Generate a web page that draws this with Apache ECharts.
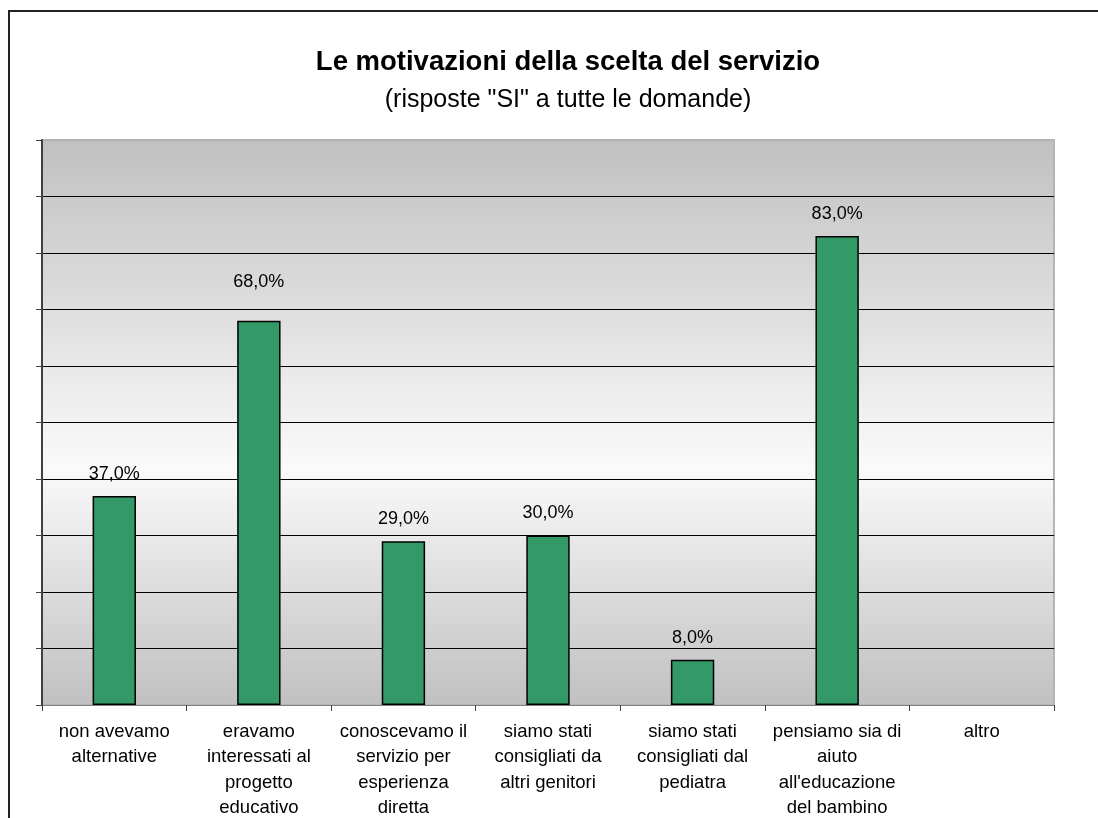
<!DOCTYPE html>
<html>
<head>
<meta charset="utf-8">
<title>Le motivazioni della scelta del servizio</title>
<script src="https://cdn.jsdelivr.net/npm/echarts@6/dist/echarts.min.js"></script>
<style>
  html, body { margin: 0; padding: 0; background: #fff; }
  #chart { width: 1098px; height: 818px; }
</style>
</head>
<body>
<div id="chart"></div>
<script>
// motivi (categorie) e percentuali di risposte "SI"
const categories = [
  'non avevamo\nalternative',
  'eravamo\ninteressati al\nprogetto\neducativo',
  'conoscevamo il\nservizio per\nesperienza\ndiretta',
  'siamo stati\nconsigliati da\naltri genitori',
  'siamo stati\nconsigliati dal\npediatra',
  'pensiamo sia di\naiuto\nall\'educazione\ndel bambino',
  'altro'
];
const values = [37, 68, 29, 30, 8, 83, null];

const FONT = '"Liberation Sans", Arial, sans-serif';

const chart = echarts.init(document.getElementById('chart'));

// gridline colours: bottom, 9 inner black lines, top border light gray
const splitColors = ['#808080'];
for (let i = 0; i < 9; i++) splitColors.push('#000');
splitColors.push('#b0b0b0');

chart.setOption({
  animation: false,
  backgroundColor: '#fff',
  title: {
    text: 'Le motivazioni della scelta del servizio',
    subtext: '(risposte "SI" a tutte le domande)',
    left: 563,
    top: 41,
    textAlign: 'center',
    itemGap: 8,
    textStyle: { fontFamily: FONT, fontSize: 27.5, fontWeight: 'bold', color: '#000', lineHeight: 32 },
    subtextStyle: { fontFamily: FONT, fontSize: 25, color: '#000', lineHeight: 28 }
  },
  graphic: [{
    type: 'rect',
    shape: { x: 9, y: 11, width: 1300, height: 1000 },
    style: { fill: 'none', stroke: '#222', lineWidth: 2 },
    silent: true
  }],
  grid: {
    left: 42,
    right: 44,
    top: 140,
    bottom: 113,
    outerBoundsMode: 'none',
    containLabel: false,
    show: true,
    borderColor: '#b4b4b4',
    borderWidth: 2,
    backgroundColor: {
      type: 'linear', x: 0, y: 0, x2: 0, y2: 1,
      colorStops: [
        { offset: 0, color: '#c0c0c0' },
        { offset: 0.58, color: '#fafafa' },
        { offset: 1, color: '#c0c0c0' }
      ]
    }
  },
  xAxis: {
    type: 'category',
    data: categories,
    axisLine: { show: true, lineStyle: { color: '#808080', width: 1 } },
    axisTick: { show: true, length: 6, lineStyle: { color: '#404040' } },
    axisLabel: {
      interval: 0,
      margin: 14,
      fontFamily: FONT,
      fontSize: 18.5,
      lineHeight: 25.5,
      color: '#000',
      align: 'center'
    },
    splitLine: { show: false }
  },
  yAxis: {
    type: 'value',
    min: 0,
    max: 100,
    interval: 10,
    axisLine: { show: true, lineStyle: { color: '#404040', width: 2 } },
    axisTick: { show: true, length: 6, lineStyle: { color: '#404040' } },
    axisLabel: { show: false },
    splitLine: { show: true, lineStyle: { color: splitColors, width: 1 } }
  },
  series: [{
    type: 'bar',
    data: values.map((v, i) => i === 1
      ? { value: v, label: { distance: 30 } }
      : v),
    barWidth: '30%',
    itemStyle: { color: '#339966', borderColor: '#000', borderWidth: 1.5 },
    label: {
      show: true,
      position: 'top',
      distance: 13,
      fontFamily: FONT,
      fontSize: 18,
      color: '#000',
      formatter: p => p.value == null ? '' : p.value.toFixed(1).replace('.', ',') + '%'
    }
  }]
});
</script>
</body>
</html>
